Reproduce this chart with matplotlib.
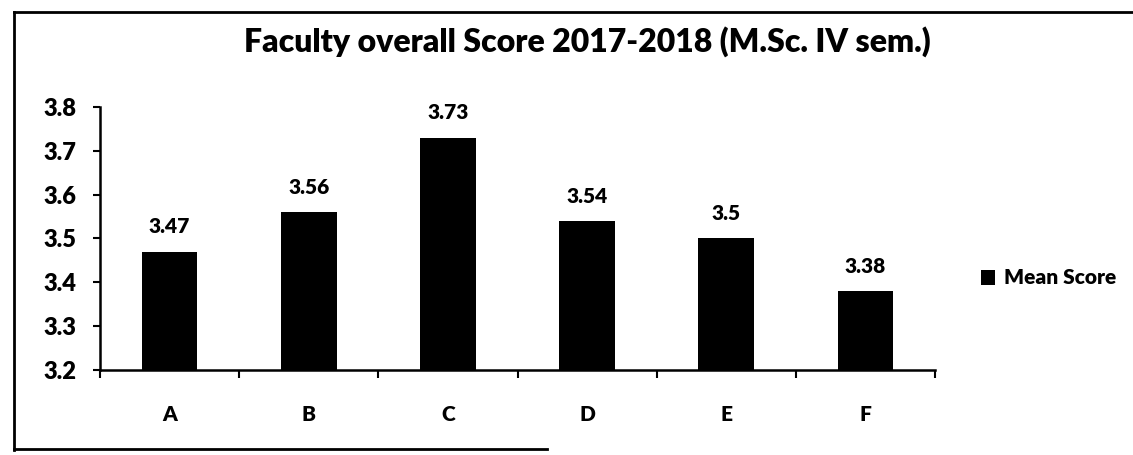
import matplotlib
matplotlib.use('Agg')
import matplotlib.pyplot as plt
from matplotlib.lines import Line2D
import numpy as np

# data
categories = ['A', 'B', 'C', 'D', 'E', 'F']
mean_score = [3.47, 3.56, 3.73, 3.54, 3.5, 3.38]
value_labels = ['3.47', '3.56', '3.73', '3.54', '3.5', '3.38']
yticks = [3.2, 3.3, 3.4, 3.5, 3.6, 3.7, 3.8]

plt.rcParams['font.family'] = ['Lato', 'DejaVu Sans']
WT = 'heavy'
plt.rcParams['font.weight'] = WT

W, H = 1133, 455
fig = plt.figure(figsize=(W / 100, H / 100), dpi=100)
ax = fig.add_axes([100 / W, 1 - 370 / H, (935 - 100) / W, (370 - 107) / H])

x = np.arange(len(categories))
ax.bar(x, mean_score, width=0.4, color='black', label='Mean Score', zorder=2)

for xi, v, lab in zip(x, mean_score, value_labels):
    ax.annotate(lab, (xi, v), xytext=(0, 11), textcoords='offset points',
                ha='center', va='bottom', fontsize=15, fontweight=WT)

ax.set_xlim(-0.5, len(categories) - 0.5)
ax.set_ylim(3.2, 3.8)
ax.set_yticks(yticks)
ax.set_yticklabels(['%.1f' % t for t in yticks], fontsize=17, fontweight=WT)

# category labels sit between the boundary ticks
ax.set_xticks(np.arange(-0.5, len(categories), 1.0))
ax.set_xticklabels([])
ax.set_xticks(x, minor=True)
ax.set_xticklabels(categories, minor=True, fontsize=15, fontweight=WT)
ax.tick_params(axis='x', which='minor', length=0, pad=25)
ax.tick_params(axis='x', which='major', length=6, width=1.5, direction='out')
ax.tick_params(axis='y', length=5, width=1.5, direction='out', pad=12)

for s in ['top', 'right']:
    ax.spines[s].set_visible(False)
for s in ['left', 'bottom']:
    ax.spines[s].set_linewidth(1.8)
    ax.spines[s].set_color('black')

fig.text(587 / W, 1 - 42 / H, 'Faculty overall Score 2017-2018 (M.Sc. IV sem.)',
         ha='center', va='center', fontsize=23, fontweight=WT)

leg = ax.legend(loc='center left', bbox_to_anchor=(962 / W, 1 - 278 / H),
                bbox_transform=fig.transFigure, frameon=False,
                handlelength=0.7, handleheight=0.7, handletextpad=0.4,
                prop={'size': 15, 'weight': WT})

# outer chart border (scanned: left, top and part of bottom visible)
lw = 2.0
fig.add_artist(Line2D([14 / W, 14 / W], [1 - 12 / H, 1 - 450 / H], color='black', lw=lw))
fig.add_artist(Line2D([14 / W, 1.0], [1 - 12 / H, 1 - 12 / H], color='black', lw=lw))
fig.add_artist(Line2D([14 / W, 547 / W], [1 - 449 / H, 1 - 449 / H], color='black', lw=lw))

fig.savefig('out.png', dpi=100)
